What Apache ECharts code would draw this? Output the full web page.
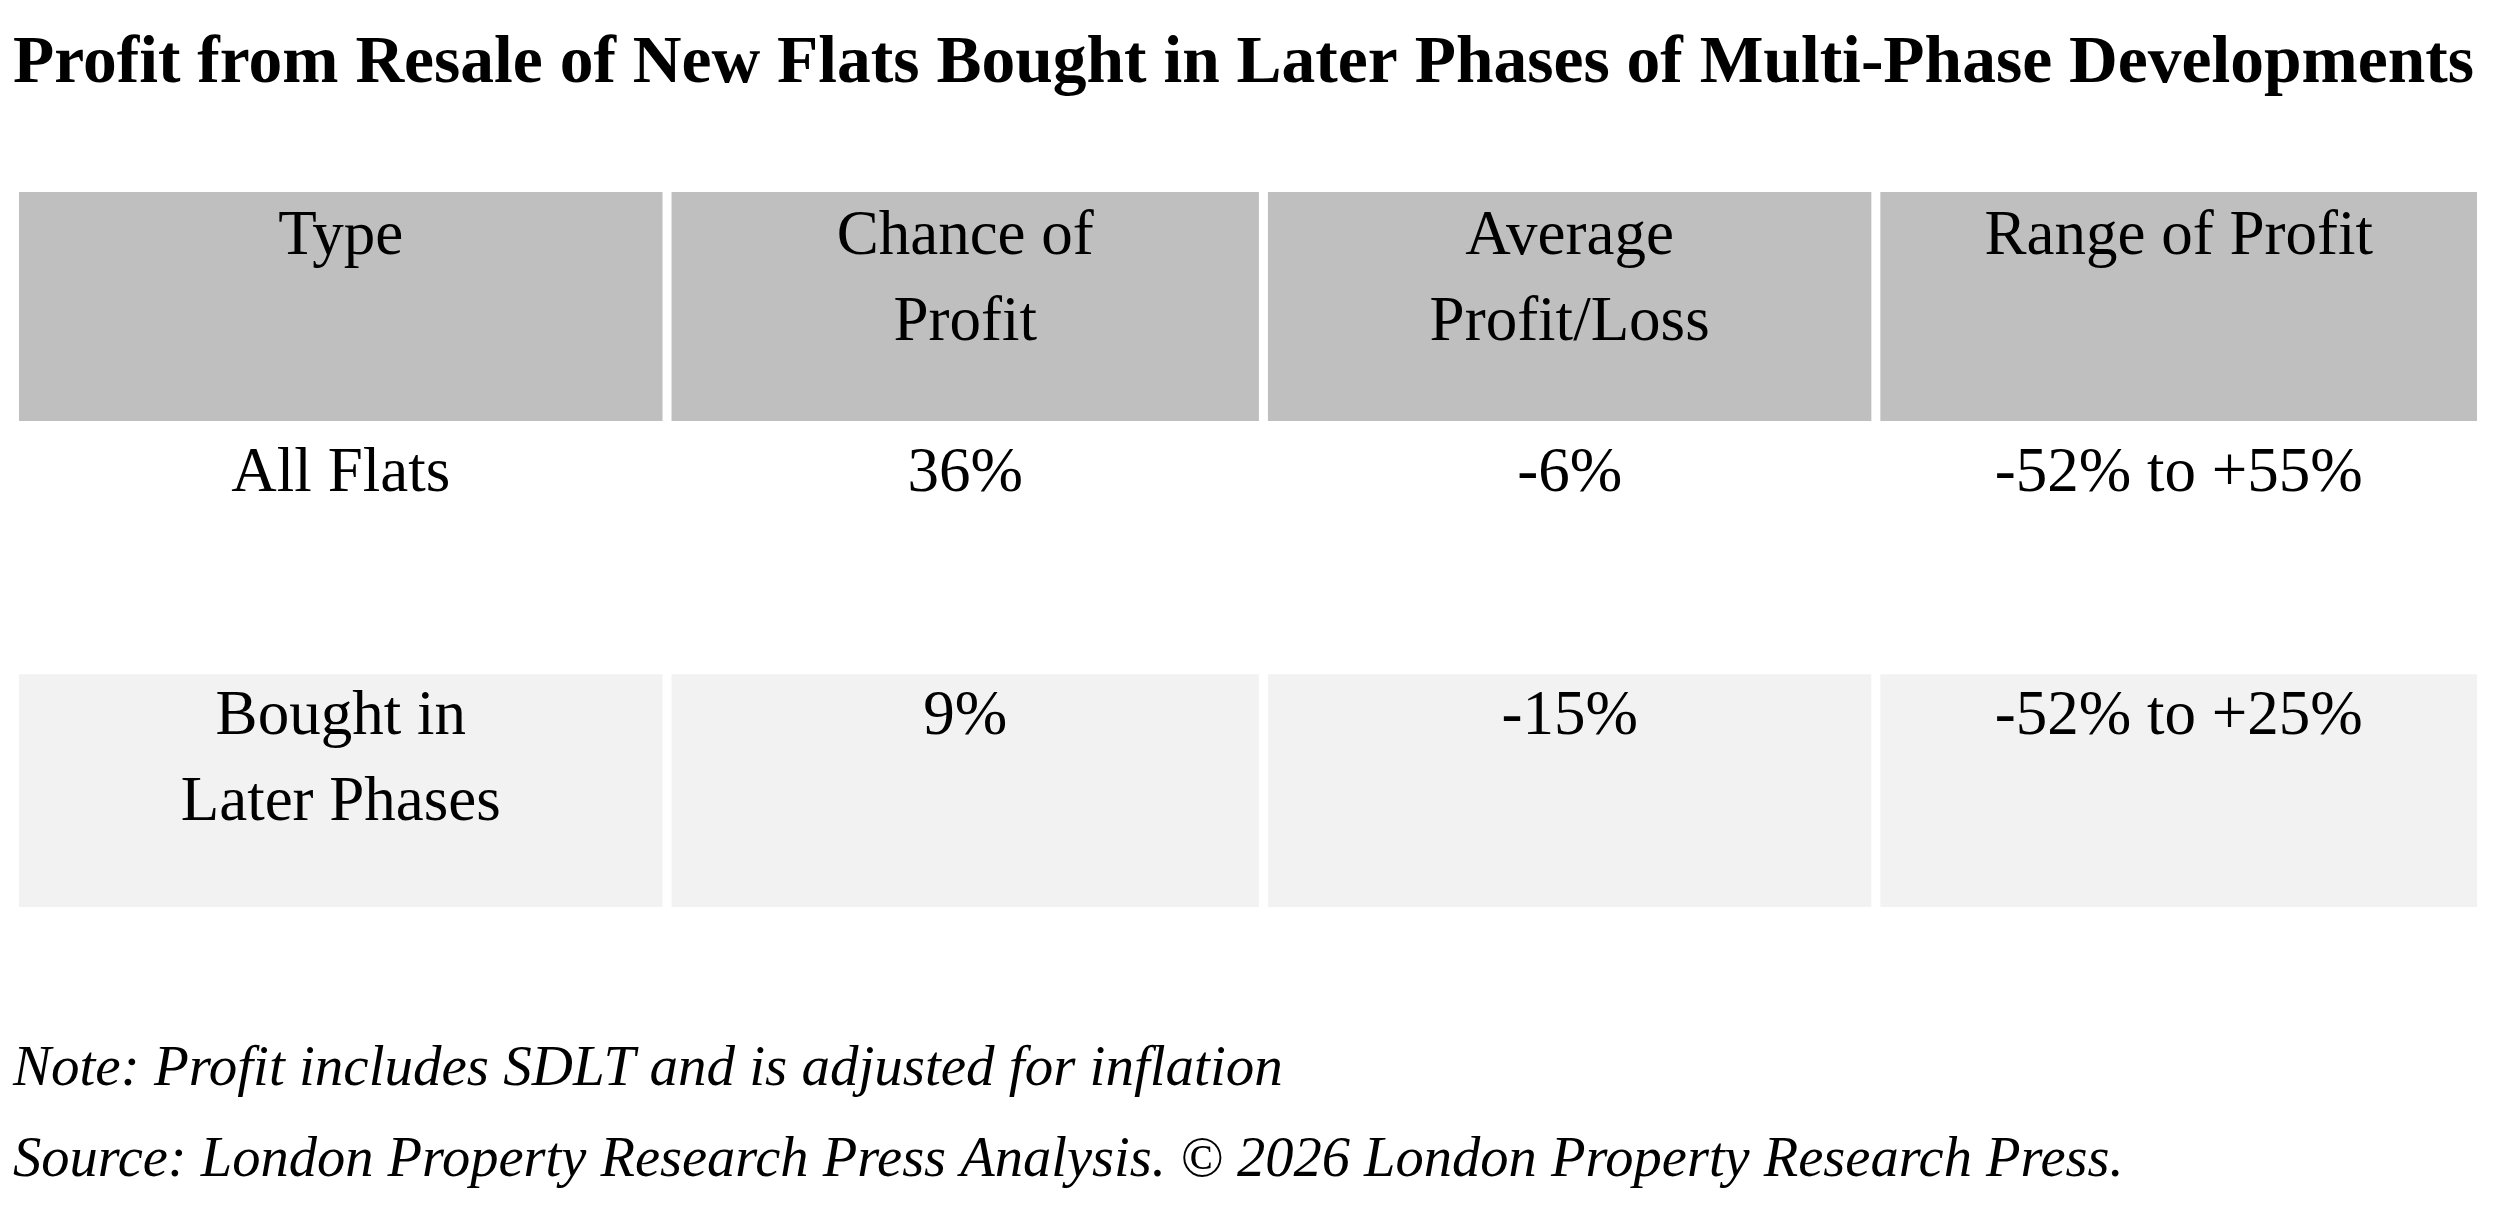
<!DOCTYPE html>
<html lang="en">
<head>
    <meta charset="UTF-8">
    <title>Profit from Resale of New Flats</title>
    <style>
        html, body { margin: 0; padding: 0; background: #fff; }
        #chart { width: 2500px; height: 1225px; }
    </style>
</head>
<body>
<div id="chart"></div>
<script src="https://cdn.jsdelivr.net/npm/echarts@6/dist/echarts.min.js"></script>
<script>
    // table contents
    var columns = ['Type', 'Chance of\nProfit', 'Average\nProfit/Loss', 'Range of Profit'];
    var types = ['All Flats', 'Bought in\nLater Phases'];
    var chanceOfProfit = [36, 9];            // %
    var averageProfitLoss = [-6, -15];       // %
    var rangeLow = [-52, -52];               // %
    var rangeHigh = [55, 25];                // %

    // layout: relative column widths (sum = 4), row heights (sum = 3), gap between cells
    var colWeight = [1.058, 0.967, 0.993, 0.982];
    var rowWeight = [0.961, 1.062, 0.977];
    var rowTextPad = [2, 10, 0];
    var cellGap = 9;
    var rowFill = ['#bfbfbf', '#ffffff', '#f2f2f2'];
    var serif = '"Liberation Serif", "DejaVu Serif", serif';

    function pct(v) { return v + '%'; }
    function signed(v) { return (v > 0 ? '+' : '') + v + '%'; }

    function starts(weights) {
        var out = [], acc = 0;
        for (var i = 0; i < weights.length; i++) {
            out.push(acc);
            acc += weights[i];
        }
        return out;
    }
    var colStart = starts(colWeight);
    var rowStart = starts(rowWeight);

    // [x0, x1, y0, y1, row, text]
    var cells = [];
    function addCell(ci, ri, text) {
        cells.push([colStart[ci], colStart[ci] + colWeight[ci],
            rowStart[ri], rowStart[ri] + rowWeight[ri], ri, text]);
    }
    columns.forEach(function (c, ci) { addCell(ci, 0, c); });
    types.forEach(function (t, ri) {
        var vals = [t, pct(chanceOfProfit[ri]), pct(averageProfitLoss[ri]),
            signed(rangeLow[ri]) + ' to ' + signed(rangeHigh[ri])];
        vals.forEach(function (v, ci) { addCell(ci, ri + 1, v); });
    });

    var chart = echarts.init(document.getElementById('chart'));

    var option = {
        backgroundColor: '#ffffff',
        animation: false,
        title: [
            {
                text: 'Profit from Resale of New Flats Bought in Later Phases of Multi-Phase Developments',
                left: 8,
                top: 26,
                textStyle: { fontFamily: serif, fontWeight: 'bold', fontSize: 67.5, color: '#000' }
            },
            {
                text: 'Note: Profit includes SDLT and is adjusted for inflation',
                left: 8,
                top: 1037,
                textStyle: { fontFamily: serif, fontStyle: 'italic', fontWeight: 'normal', fontSize: 57, color: '#000' }
            },
            {
                text: 'Source: London Property Research Press Analysis. \u00a9 2026 London Property Research Press.',
                left: 8,
                top: 1128,
                textStyle: { fontFamily: serif, fontStyle: 'italic', fontWeight: 'normal', fontSize: 56.5, color: '#000' }
            }
        ],
        grid: { left: 19, top: 192, width: 2467, height: 715 },
        xAxis: { type: 'value', min: 0, max: 4, show: false },
        yAxis: { type: 'value', min: 0, max: 3, inverse: true, show: false },
        series: [{
            type: 'custom',
            data: cells,
            encode: { x: [0, 1], y: [2, 3] },
            renderItem: function (params, api) {
                var row = api.value(4);
                var p0 = api.coord([api.value(0), api.value(2)]);
                var p1 = api.coord([api.value(1), api.value(3)]);
                var x = p0[0];
                var w = p1[0] - p0[0] - cellGap;
                var top = p0[1];
                var h = p1[1] - p0[1];
                return {
                    type: 'group',
                    children: [
                        {
                            type: 'rect',
                            shape: { x: x, y: top, width: w, height: h },
                            style: { fill: rowFill[row] }
                        },
                        {
                            type: 'text',
                            style: {
                                x: x + w / 2,
                                y: top + rowTextPad[row],
                                text: cells[params.dataIndex][5],
                                align: 'center',
                                verticalAlign: 'top',
                                fontFamily: serif,
                                fontSize: 63,
                                lineHeight: 86,
                                fill: '#000'
                            }
                        }
                    ]
                };
            }
        }]
    };

    chart.setOption(option);
</script>
</body>
</html>
